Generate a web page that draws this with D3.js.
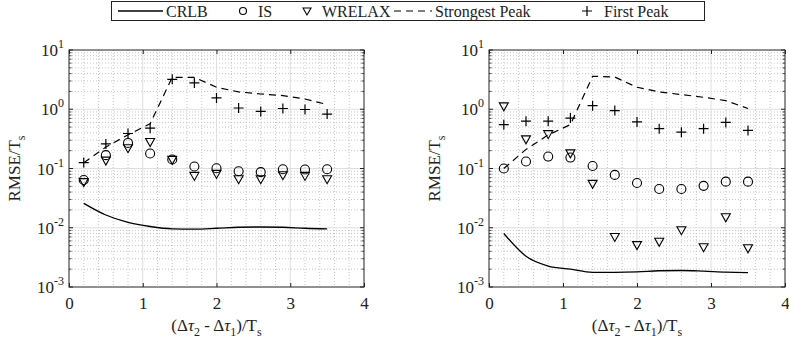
<!DOCTYPE html>
<html><head><meta charset="utf-8">
<script src="https://cdn.jsdelivr.net/npm/d3@7"></script>
<style>body{margin:0;background:#fff}svg{display:block}</style>
</head><body><svg id="c" width="789" height="343"></svg>
<script>
const xVals = [0.2,0.5,0.8,1.1,1.4,1.7,2.0,2.3,2.6,2.9,3.2,3.5];
const xTicks = [0,1,2,3,4];
const yTickExps = [-3,-2,-1,0,1];
const seriesNames = ["CRLB","IS","WRELAX","Strongest Peak","First Peak"];

const leftCRLB = [0.0258,0.0164,0.0123,0.0105,0.0096,0.0095,0.0098,0.0102,0.0103,0.0102,0.0098,0.0096];
const leftIS = [0.064,0.168,0.27,0.179,0.142,0.108,0.101,0.090,0.087,0.097,0.096,0.097];
const leftWRELAX = [0.059,0.136,0.22,0.28,0.14,0.075,0.081,0.066,0.066,0.077,0.075,0.066];
const leftStrongest = [0.125,0.23,0.37,0.57,3.46,3.46,2.35,1.96,1.81,1.70,1.49,1.20];
const leftFirst = [0.126,0.26,0.39,0.48,3.2,2.78,1.55,1.05,0.92,1.03,0.99,0.83];

const rightCRLB = [0.0080,0.0033,0.00226,0.0020,0.00177,0.00177,0.0018,0.00188,0.0019,0.00185,0.00178,0.00175];
const rightIS = [0.100,0.131,0.159,0.153,0.110,0.078,0.057,0.045,0.045,0.051,0.060,0.060];
const rightWRELAX = [1.12,0.31,0.38,0.18,0.055,0.0070,0.0051,0.0058,0.0091,0.0047,0.015,0.0045];
const rightStrongest = [0.100,0.21,0.37,0.55,3.6,3.5,2.35,1.96,1.77,1.59,1.40,1.03];
const rightFirst = [0.55,0.63,0.63,0.71,1.15,0.95,0.61,0.47,0.41,0.47,0.60,0.44];

const svg = d3.select("#c");
const FONT = "'Liberation Serif', 'Times New Roman', Times, 'DejaVu Serif', serif";

function triPath(x,y){return `M${x-4.5},${y-3.5}L${x+4.5},${y-3.5}L${x},${y+4.5}Z`;}
function plusPath(x,y){return `M${x-5},${y}L${x+5},${y}M${x},${y-5}L${x},${y+5}`;}

function panel(x0, x1, yTop, yBot, d, labelX){
  const g = svg.append("g");
  const x = d3.scaleLinear().domain([0,4]).range([x0,x1]);
  const y = d3.scaleLog().domain([1e-3,10]).range([yBot,yTop]);
  const minorX = d3.range(0,4.0001,0.2).filter(v=>Math.abs(v-Math.round(v))>1e-6);
  const minorY = [];
  yTickExps.slice(0,-1).forEach(e=>{for(let k=2;k<=9;k++)minorY.push(k*Math.pow(10,e));});
  g.selectAll(".mgx").data(minorX).join("line").attr("x1",v=>x(v)).attr("x2",v=>x(v)).attr("y1",yTop).attr("y2",yBot)
    .attr("stroke","#b8b8b8").attr("stroke-width",0.8).attr("stroke-dasharray","1,2");
  g.selectAll(".mgy").data(minorY).join("line").attr("y1",v=>y(v)).attr("y2",v=>y(v)).attr("x1",x0).attr("x2",x1)
    .attr("stroke","#b8b8b8").attr("stroke-width",0.8).attr("stroke-dasharray","1,2");
  g.selectAll(".gx").data(xTicks.slice(1,-1)).join("line").attr("x1",v=>x(v)).attr("x2",v=>x(v)).attr("y1",yTop).attr("y2",yBot)
    .attr("stroke","#dedede").attr("stroke-width",1);
  g.selectAll(".gy").data(yTickExps.slice(1,-1)).join("line").attr("y1",e=>y(Math.pow(10,e))).attr("y2",e=>y(Math.pow(10,e))).attr("x1",x0).attr("x2",x1)
    .attr("stroke","#dedede").attr("stroke-width",1);
  const ax = d3.axisBottom(x).tickValues(xTicks).tickSize(-4).tickFormat(d3.format("d")).tickPadding(10);
  const axG = g.append("g").attr("transform",`translate(0,${yBot})`).call(ax);
  axG.select(".domain").remove();
  axG.selectAll("text").attr("font-family",FONT).attr("font-size",17).attr("fill","#222");
  axG.selectAll("line").attr("stroke","#222");
  const axT = d3.axisTop(x).tickValues(xTicks).tickSize(-4).tickFormat("");
  const axTG = g.append("g").attr("transform",`translate(0,${yTop})`).call(axT);
  axTG.select(".domain").remove(); axTG.selectAll("line").attr("stroke","#222");
  const yMaj = yTickExps.map(e=>Math.pow(10,e));
  [[x0,1],[x1,-1]].forEach(([xx,s])=>{
    g.selectAll(null).data(yMaj).join("line").attr("x1",xx).attr("x2",xx+4*s).attr("y1",v=>y(v)).attr("y2",v=>y(v)).attr("stroke","#222");
    g.selectAll(null).data(minorY).join("line").attr("x1",xx).attr("x2",xx+2.5*s).attr("y1",v=>y(v)).attr("y2",v=>y(v)).attr("stroke","#222").attr("stroke-width",0.8);
  });
  const yl = g.selectAll(".ytl").data(yTickExps).join("text").attr("x",x0-5).attr("y",e=>y(Math.pow(10,e))+6)
    .attr("text-anchor","end").attr("font-family",FONT).attr("font-size",17).attr("fill","#222");
  yl.append("tspan").text("10");
  yl.append("tspan").attr("dy",-8).attr("font-size",12).text(e=>String(e));
  g.append("rect").attr("x",x0).attr("y",yTop).attr("width",x1-x0).attr("height",yBot-yTop).attr("fill","none").attr("stroke","#222").attr("stroke-width",1);
  const line = d3.line().x((v,i)=>x(xVals[i])).y(v=>y(v)).curve(d3.curveMonotoneX);
  g.append("path").attr("d",line(d.crlb)).attr("fill","none").attr("stroke","#000").attr("stroke-width",1.3);
  const line2 = d3.line().x((v,i)=>x(xVals[i])).y(v=>y(v));
  g.append("path").attr("d",line2(d.strong)).attr("fill","none").attr("stroke","#000").attr("stroke-width",1.2).attr("stroke-dasharray","7,5");
  g.selectAll(null).data(d.is).join("circle").attr("cx",(v,i)=>x(xVals[i])).attr("cy",v=>y(v)).attr("r",4.5)
    .attr("fill","none").attr("stroke","#000").attr("stroke-width",1.1);
  g.selectAll(null).data(d.wr).join("path").attr("d",(v,i)=>triPath(x(xVals[i]),y(v)))
    .attr("fill","none").attr("stroke","#000").attr("stroke-width",1.1);
  g.selectAll(null).data(d.first).join("path").attr("d",(v,i)=>plusPath(x(xVals[i]),y(v)))
    .attr("fill","none").attr("stroke","#000").attr("stroke-width",1.2);
  const xl = g.append("text").attr("x",(x0+x1)/2).attr("y",331).attr("text-anchor","middle").attr("font-family",FONT).attr("font-size",17).attr("fill","#222");
  xl.append("tspan").text("(Δ");
  xl.append("tspan").attr("font-style","italic").text("τ");
  xl.append("tspan").attr("dy",5).attr("font-size",12).text("2");
  xl.append("tspan").attr("dy",-5).text(" - Δ");
  xl.append("tspan").attr("font-style","italic").text("τ");
  xl.append("tspan").attr("dy",5).attr("font-size",12).text("1");
  xl.append("tspan").attr("dy",-5).text(")/T");
  xl.append("tspan").attr("dy",5).attr("font-size",12).text("s");
  const ylab = g.append("text").attr("transform",`translate(${labelX},${(yTop+yBot)/2}) rotate(-90)`).attr("text-anchor","middle")
    .attr("font-family",FONT).attr("font-size",17).attr("fill","#222");
  ylab.append("tspan").text("RMSE/T");
  ylab.append("tspan").attr("dy",5).attr("font-size",12).text("s");
}

panel(69,364,50,287,{crlb:leftCRLB,is:leftIS,wr:leftWRELAX,strong:leftStrongest,first:leftFirst},20);
panel(489,785,50,287,{crlb:rightCRLB,is:rightIS,wr:rightWRELAX,strong:rightStrongest,first:rightFirst},440);

const lg = svg.append("g");
lg.append("rect").attr("x",111.5).attr("y",1.5).attr("width",593).attr("height",19).attr("fill","#fff").attr("stroke","#222").attr("stroke-width",1);
const ly = 11;
lg.append("line").attr("x1",118).attr("x2",163).attr("y1",ly).attr("y2",ly).attr("stroke","#000").attr("stroke-width",1.3);
lg.append("circle").attr("cx",243).attr("cy",ly).attr("r",3.5).attr("fill","none").attr("stroke","#000").attr("stroke-width",1.1);
lg.append("path").attr("d",`M${307-4},${ly-3}L${307+4},${ly-3}L307,${ly+4}Z`).attr("fill","none").attr("stroke","#000").attr("stroke-width",1.1);
lg.append("line").attr("x1",394).attr("x2",432).attr("y1",ly).attr("y2",ly).attr("stroke","#000").attr("stroke-width",1.2).attr("stroke-dasharray","7,5");
lg.append("path").attr("d",plusPath(587,ly)).attr("stroke","#000").attr("stroke-width",1.2);
const legX = [166,258,322,435,604];
lg.selectAll(null).data(seriesNames).join("text").attr("x",(d,i)=>legX[i]).attr("y",ly+5.5)
  .attr("font-family",FONT).attr("font-size",16).attr("fill","#222").text(d=>d);
</script></body></html>
